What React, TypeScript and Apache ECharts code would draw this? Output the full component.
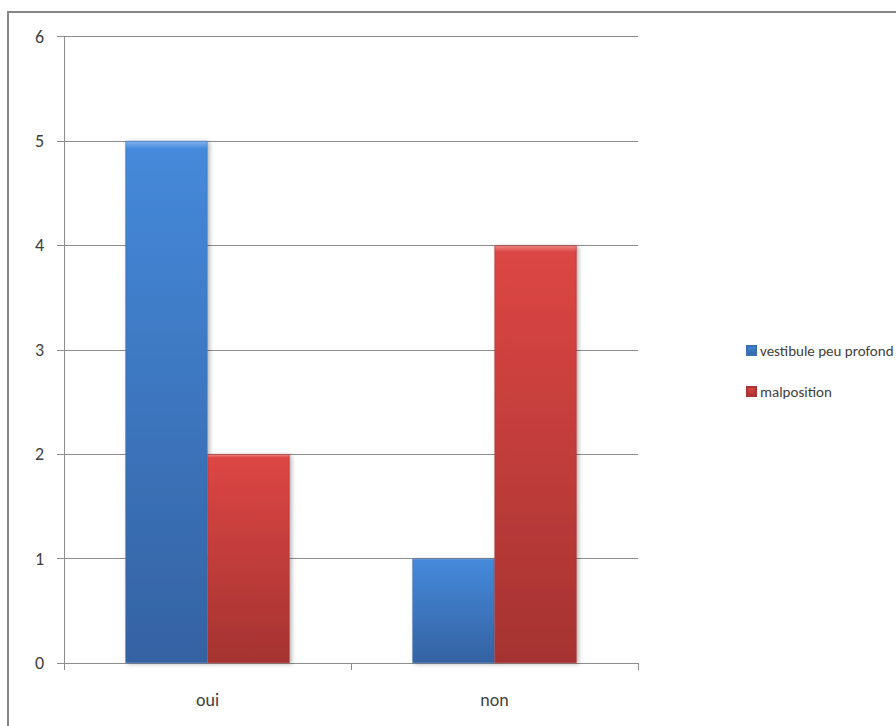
import React, { useEffect, useRef } from "react";
import * as echarts from "echarts";

const categories = ["oui", "non"];
const vestibuleValues = [5, 1];
const malpositionValues = [2, 4];
const seriesNames = ["vestibule peu profond", "malposition"];

const FONT = "Carlito, Lato, 'Open Sans', sans-serif";

function barGradient(light: string, top: string, bottom: string) {
  return new echarts.graphic.LinearGradient(0, 0, 0, 1, [
    { offset: 0, color: light },
    { offset: 0.015, color: top },
    { offset: 1, color: bottom },
  ]);
}

export default function App() {
  const ref = useRef<HTMLDivElement>(null);

  useEffect(() => {
    if (!ref.current) return;
    const chart = echarts.init(ref.current, null, { renderer: "svg" });
    const axisGray = "#8c8c8c";
    chart.setOption({
      animation: false,
      backgroundColor: "#ffffff",
      graphic: [
        {
          type: "rect",
          shape: { x: 8, y: 12, width: 920, height: 760 },
          style: { fill: "none", stroke: "#878787", lineWidth: 2 },
          silent: true,
          z: -1,
        },
      ],
      grid: { left: 64, right: 258, top: 36.5, bottom: 63 },
      legend: {
        orient: "vertical",
        left: 746,
        top: 343,
        padding: 0,
        itemWidth: 9,
        itemHeight: 9,
        itemGap: 26,
        icon: "rect",
        textStyle: { fontFamily: FONT, fontSize: 15, color: "#404040", padding: [0, 0, 0, -1] },
        data: seriesNames,
      },
      xAxis: {
        type: "category",
        data: categories,
        axisLine: { lineStyle: { color: axisGray, width: 1 } },
        axisTick: { show: true, length: 7, lineStyle: { color: axisGray } },
        axisLabel: { fontFamily: FONT, fontSize: 18, color: "#404040", margin: 28 },
      },
      yAxis: {
        type: "value",
        min: 0,
        max: 6,
        interval: 1,
        axisLine: { show: true, lineStyle: { color: axisGray, width: 1 } },
        axisTick: { show: true, length: 7, lineStyle: { color: axisGray } },
        splitLine: { lineStyle: { color: axisGray, width: 1 } },
        axisLabel: { fontFamily: FONT, fontSize: 18, color: "#404040", margin: 20 },
      },
      series: [
        {
          name: seriesNames[0],
          type: "bar",
          data: vestibuleValues,
          barCategoryGap: "42.8%",
          barGap: "0%",
          itemStyle: {
            color: barGradient("#7fb3ee", "#4589da", "#3462a2"),
            borderColor: "#3a6fb3",
            borderWidth: 0.6,
            shadowColor: "rgba(0,0,0,0.3)",
            shadowBlur: 4,
            shadowOffsetX: 2,
            shadowOffsetY: 1,
          },
        },
        {
          name: seriesNames[1],
          type: "bar",
          data: malpositionValues,
          itemStyle: {
            color: barGradient("#ee8a88", "#dc4644", "#a53331"),
            borderColor: "#a83432",
            borderWidth: 0.6,
            shadowColor: "rgba(0,0,0,0.3)",
            shadowBlur: 4,
            shadowOffsetX: 2,
            shadowOffsetY: 1,
          },
        },
      ],
    });
    return () => chart.dispose();
  }, []);

  return (
    <div
      ref={ref}
      style={{ position: "fixed", left: 0, top: 0, width: 896, height: 726 }}
    />
  );
}
